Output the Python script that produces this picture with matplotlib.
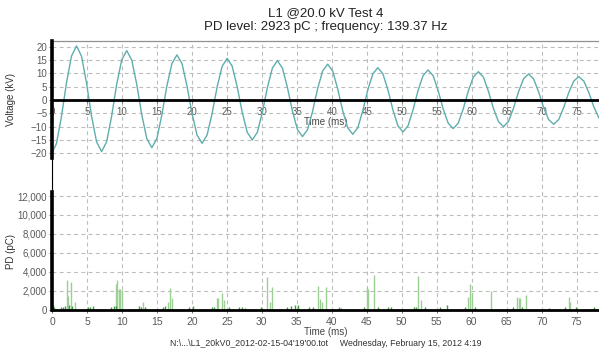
import numpy as np
import matplotlib
matplotlib.use("Agg")
from matplotlib import pyplot as plt
from matplotlib.ticker import FuncFormatter

plt.rcParams['font.family'] = ['Liberation Sans', 'DejaVu Sans']

# voltage trace (ms, kV)
t_ms = [-0.09, 0.63, 1.35, 2.06, 2.78, 3.5, 4.22, 4.94, 5.65, 6.37,
        7.09, 7.81, 8.53, 9.24, 9.96, 10.68, 11.4, 12.12, 12.83, 13.55,
        14.27, 14.99, 15.71, 16.42, 17.14, 17.86, 18.58, 19.3, 20.01, 20.73,
        21.45, 22.17, 22.89, 23.6, 24.32, 25.04, 25.76, 26.48, 27.19, 27.91,
        28.63, 29.35, 30.07, 30.78, 31.5, 32.22, 32.94, 33.66, 34.37, 35.09,
        35.81, 36.53, 37.25, 37.96, 38.68, 39.4, 40.12, 40.84, 41.55, 42.27,
        42.99, 43.71, 44.43, 45.14, 45.86, 46.58, 47.3, 48.02, 48.73, 49.45,
        50.17, 50.89, 51.61, 52.32, 53.04, 53.76, 54.48, 55.2, 55.91, 56.63,
        57.35, 58.07, 58.79, 59.5, 60.22, 60.94, 61.66, 62.38, 63.09, 63.81,
        64.53, 65.25, 65.97, 66.68, 67.4, 68.12, 68.84, 69.56, 70.27, 70.99,
        71.71, 72.43, 73.15, 73.86, 74.58, 75.3, 76.02, 76.74, 77.45, 78.17,
        78.89]
volt_kv = [-20.3, -16.42, -6.27, 6.26, 16.38, 20.25, 16.38, 6.26, -5.99, -15.69,
           -19.4, -15.69, -5.99, 5.72, 14.97, 18.5, 14.97, 5.72, -5.53, -14.48,
           -17.9, -14.48, -5.53, 5.22, 13.67, 16.9, 13.67, 5.22, -5.02, -13.15,
           -16.25, -13.15, -5.02, 4.82, 12.62, 15.6, 12.62, 4.82, -4.64, -12.14,
           -15.0, -12.14, -4.64, 4.56, 11.93, 14.75, 11.93, 4.56, -4.25, -11.12,
           -13.75, -11.12, -4.25, 4.14, 10.84, 13.4, 10.84, 4.14, -3.99, -10.44,
           -12.9, -10.44, -3.99, 3.74, 9.79, 12.1, 9.79, 3.74, -3.71, -9.71,
           -12.0, -9.71, -3.71, 3.48, 9.10, 11.25, 9.10, 3.48, -3.32, -8.70,
           -10.75, -8.70, -3.32, 3.28, 8.58, 10.6, 8.58, 3.28, -3.09, -8.09,
           -10.0, -8.09, -3.09, 3.01, 7.89, 9.75, 7.89, 3.01, -2.81, -7.36,
           -9.1, -7.36, -2.81, 2.70, 7.08, 8.75, 7.08, 2.70, -2.56, -6.71,
           -8.3]

# large PD pulses (ms, pC)
pd_t = [2.1, 2.34, 2.67, 3.29, 9.1, 9.34, 9.58, 9.75, 9.95, 12.96,
        16.6, 16.9, 17.2, 23.54, 23.8, 24.26, 24.6, 30.69, 31.2, 31.45,
        38.07, 38.3, 38.55, 39.12, 44.98, 45.2, 45.98, 52.27, 52.7, 59.51,
        59.75, 60.0, 62.75, 66.5, 66.7, 66.9, 67.7, 73.85, 74.05]
pd_pc = [3100, 1400, 2900, 800, 2680, 3100, 2200, 2200, 2100, 850,
         800, 2290, 1200, 1270, 1200, 1760, 1000, 3450, 800, 2400,
         2540, 1090, 800, 2400, 2400, 2200, 3630, 3520, 1000, 1340,
         2750, 1800, 1970, 1340, 1200, 1200, 1580, 1340, 800]

# small pulses near the baseline
pd_small_t = [0.1, 0.3, 1.3, 1.6, 1.9, 2.5, 2.9, 5.2, 5.5, 5.9, 8.5, 8.8,
              9.2, 12.4, 12.7, 13.3, 15.9, 16.2, 19.6, 20.2, 22.9, 23.2,
              25.3, 26.7, 27.1, 27.6, 29.9, 33.6, 34.1, 34.7, 35.1, 36.8,
              37.36, 41.0, 41.3, 44.6, 46.6, 48.0, 48.5, 51.8, 52.0, 53.3,
              55.5, 56.4, 59.0, 60.5, 65.9, 67.2, 71.0, 73.4, 74.9, 77.5]
pd_small_pc = [450, 300, 250, 300, 350, 500, 350, 300, 250, 400, 300, 350,
               400, 350, 300, 250, 300, 350, 300, 350, 250, 300,
               300, 250, 300, 200, 250, 300, 350, 450, 500, 250,
               300, 300, 200, 300, 300, 300, 300, 300, 250, 250,
               250, 450, 300, 250, 250, 300, 200, 250, 300, 300]

x_ticks = list(range(0, 80, 5))
v_ticks = [-20, -15, -10, -5, 0, 5, 10, 15, 20]
pd_ticks = [0, 2000, 4000, 6000, 8000, 10000, 12000]

grid_col = '#bdbdbd'
lab_col = '#5a5a5a'
wave_col = '#5fadad'

fig = plt.figure(figsize=(5.99, 3.51), dpi=100)
ax1 = fig.add_axes([52 / 599, 1 - 178 / 351, 547 / 599, 137 / 351])
ax2 = fig.add_axes([52 / 599, 1 - 311 / 351, 547 / 599, 133 / 351])

for ax in (ax1, ax2):
    ax.set_xlim(0, 78.19)
    ax.set_xticks(x_ticks)
    ax.grid(True, color=grid_col, linestyle=(0, (3.5, 3)), linewidth=0.8)
    ax.set_axisbelow(True)
    ax.spines['right'].set_visible(False)
    ax.spines['left'].set_color('black')
    ax.spines['left'].set_linewidth(0.8)
    ax.spines['bottom'].set_position(('data', 0))
    ax.spines['bottom'].set_linewidth(2.0)
    ax.spines['bottom'].set_color('black')
    ax.tick_params(colors=lab_col, labelsize=7, length=2, width=0.6, pad=1.5)
    ax.patch.set_alpha(0)

# top panel: voltage
ax1.plot(t_ms, volt_kv, color=wave_col, linewidth=1.0, zorder=3)
ax1.set_ylim(-29.27, 22.1)
ax1.set_yticks(v_ticks)
ax1.tick_params(axis='x', pad=3)
ax1.spines['top'].set_color('#909090')
ax1.spines['top'].set_linewidth(0.9)
ax1.spines['bottom'].set_zorder(4)
ax1.plot([0, 0], [-21.75, 22.1], color='black', linewidth=2.6, clip_on=False, zorder=5)
ax1.set_ylabel('Voltage (kV)', fontsize=7, color='#333333', labelpad=2)
ax1.yaxis.set_label_coords(-0.066, 0.57)
ax1.set_xlabel('Time (ms)', fontsize=7, color='#444444', labelpad=0)

# bottom panel: PD pulses
ax2.vlines(pd_t, 0, pd_pc, color='#9ccf94', linewidth=1.0, zorder=2)
ax2.vlines(pd_small_t, 0, pd_small_pc, color='#3f9c3f', linewidth=1.0, zorder=3)
ax2.set_ylim(-150, 13904)
ax2.set_yticks(pd_ticks)
ax2.yaxis.set_major_formatter(FuncFormatter(lambda v, p: f'{int(v):,}'))
ax2.spines['top'].set_visible(False)
ax2.spines['bottom'].set_zorder(4)
ax2.plot([0, 0], [0, 12450], color='black', linewidth=2.6, clip_on=False, zorder=5)
ax2.set_ylabel('PD (pC)', fontsize=7, color='#333333', labelpad=2)
ax2.yaxis.set_label_coords(-0.066, 0.45)
ax2.tick_params(axis='x', labelsize=7.5, pad=3)
ax2.set_xlabel('Time (ms)', fontsize=7, color='#444444', labelpad=0.5)

fig.text(0.5435, 1 - 13 / 351, 'L1 @20.0 kV Test 4', ha='center', va='center',
         fontsize=9.5, color='#222222')
fig.text(0.5435, 1 - 27 / 351, 'PD level: 2923 pC ; frequency: 139.37 Hz',
         ha='center', va='center', fontsize=9.5, color='#222222')
fig.text(0.5435, 1 - 343 / 351,
         "N:\\...\\L1_20kV0_2012-02-15-04'19'00.tot     Wednesday, February 15, 2012 4:19",
         ha='center', va='center', fontsize=6.3, color='#333333')

fig.savefig('out.png', dpi=100)
